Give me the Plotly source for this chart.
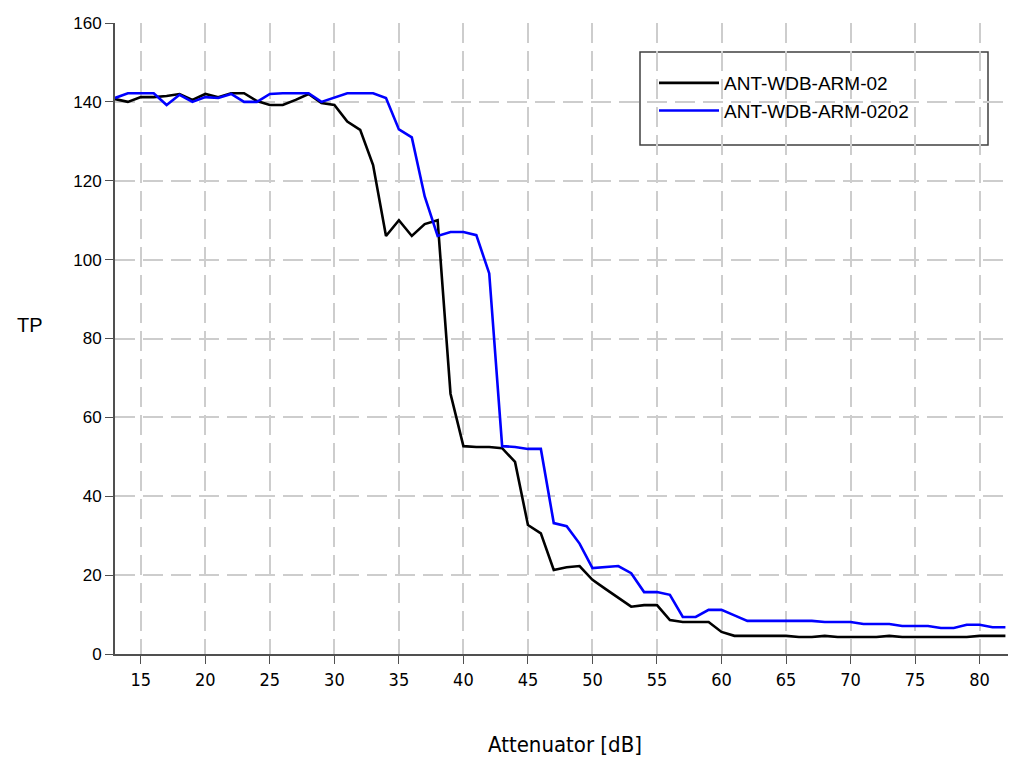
import plotly.graph_objects as go

att_db = list(range(13, 83))

tp_arm02 = [
    140.7, 140.0, 141.2, 141.2, 141.5, 142.0, 140.5, 142.0, 141.2, 142.2,
    142.2, 140.2, 139.2, 139.2, 140.5, 142.0, 139.7, 139.2, 135.0, 132.9,
    124.0, 106.0, 110.0, 106.0, 109.0, 110.0, 66.0, 52.7, 52.5, 52.5,
    52.2, 48.7, 32.7, 30.6, 21.3, 22.0, 22.3, 18.8, 16.5, 14.3,
    12.0, 12.4, 12.4, 8.6, 8.1, 8.1, 8.1, 5.6, 4.6, 4.6,
    4.6, 4.6, 4.6, 4.3, 4.3, 4.6, 4.3, 4.3, 4.3, 4.3,
    4.6, 4.3, 4.3, 4.3, 4.3, 4.3, 4.3, 4.6, 4.6, 4.6,
]

tp_arm0202 = [
    141.0, 142.2, 142.2, 142.2, 139.2, 141.8, 140.0, 141.2, 141.0, 142.0,
    140.0, 140.0, 142.0, 142.2, 142.2, 142.2, 140.0, 141.0, 142.2, 142.2,
    142.2, 141.0, 133.0, 131.0, 116.0, 106.0, 107.0, 107.0, 106.2, 96.5,
    52.7, 52.5, 52.0, 52.0, 33.2, 32.4, 28.0, 21.8, 22.0, 22.3,
    20.5, 15.7, 15.7, 15.0, 9.4, 9.4, 11.2, 11.2, 9.8, 8.4,
    8.4, 8.4, 8.4, 8.4, 8.4, 8.1, 8.1, 8.1, 7.6, 7.6,
    7.6, 7.1, 7.1, 7.1, 6.6, 6.6, 7.4, 7.4, 6.8, 6.8,
]

series_names = ["ANT-WDB-ARM-02", "ANT-WDB-ARM-0202"]
series_colors = ["#000000", "#0000ff"]

x_ticks = list(range(15, 85, 5))
y_ticks = list(range(0, 161, 20))

fig = go.Figure()
for name, vals, col in zip(series_names, [tp_arm02, tp_arm0202], series_colors):
    fig.add_trace(go.Scatter(x=att_db, y=vals, mode="lines", name=name,
                             line=dict(color=col, width=2.6)))

grid_col = "#cdcdcd"
axis_col = "#505050"
narrow = "Liberation Sans Narrow, DejaVu Sans Condensed, Liberation Sans, sans-serif"

L, R, T, B = 115, 1008, 23, 654
W, H = R - L, B - T

fig.update_layout(
    width=1010, height=758,
    margin=dict(l=L, r=1010 - R, t=T, b=758 - B, autoexpand=False),
    paper_bgcolor="white", plot_bgcolor="white",
    font=dict(family="Liberation Sans, Arial, sans-serif", color="#000000"),
    showlegend=True,
    legend=dict(
        x=(654 - L) / W, y=1 - (64 - T) / H, xanchor="left", yanchor="top",
        bgcolor="rgba(0,0,0,0)", borderwidth=0,
        font=dict(size=19, family="Liberation Sans, Arial, sans-serif"),
        itemwidth=60, tracegroupgap=0,
    ),
    xaxis=dict(
        range=[13, 82.2], tickvals=x_ticks, ticktext=[str(v) for v in x_ticks],
        automargin=False,
        showline=True, linecolor=axis_col, linewidth=2,
        ticks="outside", ticklen=8, tickcolor=axis_col, tickwidth=1,
        showgrid=True, gridcolor=grid_col, gridwidth=2, griddash="20px,8px",
        zeroline=False,
        tickfont=dict(size=18, family=narrow),
    ),
    yaxis=dict(
        range=[0, 160], tickvals=y_ticks, automargin=False,
        showline=True, linecolor=axis_col, linewidth=2,
        ticks="outside", ticklen=8, tickcolor=axis_col, tickwidth=1,
        showgrid=True, gridcolor=grid_col, gridwidth=2, griddash="20px,8px",
        zeroline=False,
        tickfont=dict(size=17),
    ),
    shapes=[dict(type="rect", xref="paper", yref="paper",
                 x0=(640 - L) / W, x1=(988 - L) / W,
                 y0=1 - (145 - T) / H, y1=1 - (52 - T) / H,
                 line=dict(color="#404040", width=1.5), fillcolor="white", layer="below")],
    annotations=[
        dict(text="TP", xref="paper", yref="paper", x=-(L - 30) / W, y=1 - (325 - T) / H,
             showarrow=False, xanchor="center", yanchor="middle", font=dict(size=20)),
        dict(text="Attenuator [dB]", xref="paper", yref="paper", x=(565 - L) / W, y=-(744 - B) / H,
             showarrow=False, xanchor="center", yanchor="middle", font=dict(size=22, family=narrow)),
    ],
)

fig.write_html("out.html", config={"displayModeBar": False},
               post_script="document.body.style.margin='0';document.body.style.overflow='hidden';")
